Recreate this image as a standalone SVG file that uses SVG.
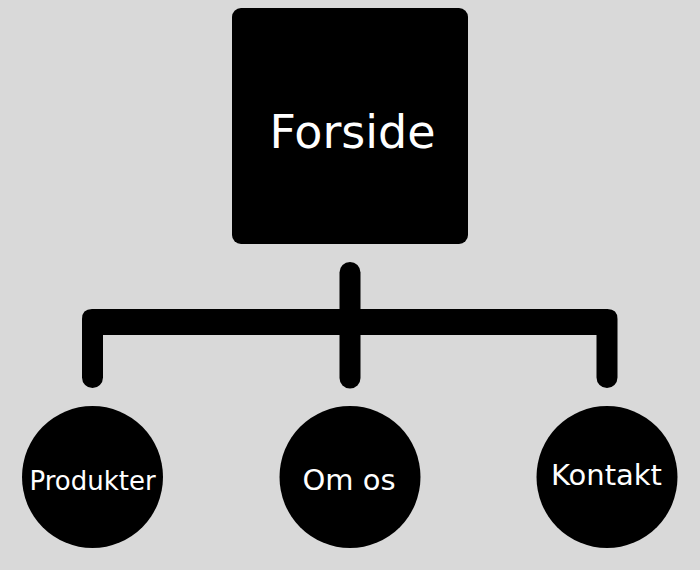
<svg xmlns="http://www.w3.org/2000/svg" width="700" height="570" viewBox="0 0 700 570">
<style>
.shape{fill:#000000}
.lbl{fill:#ffffff;font-family:"DejaVu Sans","Liberation Sans",sans-serif;text-anchor:middle}
</style>
<rect x="0" y="0" width="700" height="570" fill="#d9d9d9"/>
<g id="connectors">
<path class="shape" d="M 82 319 Q 82 309 92 309 H 607.5 Q 617.5 309 617.5 319 V 377.5 A 10.5 10.5 0 0 1 596.5 377.5 V 335 H 103 V 377.5 A 10.5 10.5 0 0 1 82 377.5 Z"/>
<rect class="shape" x="339.5" y="262" width="21" height="126.5" rx="10.5"/>
</g>
<g id="node-forside">
<rect class="shape" x="232" y="8" width="236" height="236" rx="9"/>
<text class="lbl" x="352.5" y="148" font-size="46">Forside</text>
</g>
<g id="node-produkter">
<ellipse class="shape" cx="92.5" cy="477" rx="70.5" ry="71"/>
<text class="lbl" x="92.5" y="490" font-size="26">Produkter</text>
</g>
<g id="node-omos">
<ellipse class="shape" cx="350" cy="477" rx="70.5" ry="71"/>
<text class="lbl" x="349" y="490" font-size="29">Om os</text>
</g>
<g id="node-kontakt">
<ellipse class="shape" cx="607" cy="477" rx="70.5" ry="71"/>
<text class="lbl" x="606.5" y="485" font-size="29">Kontakt</text>
</g>
</svg>
